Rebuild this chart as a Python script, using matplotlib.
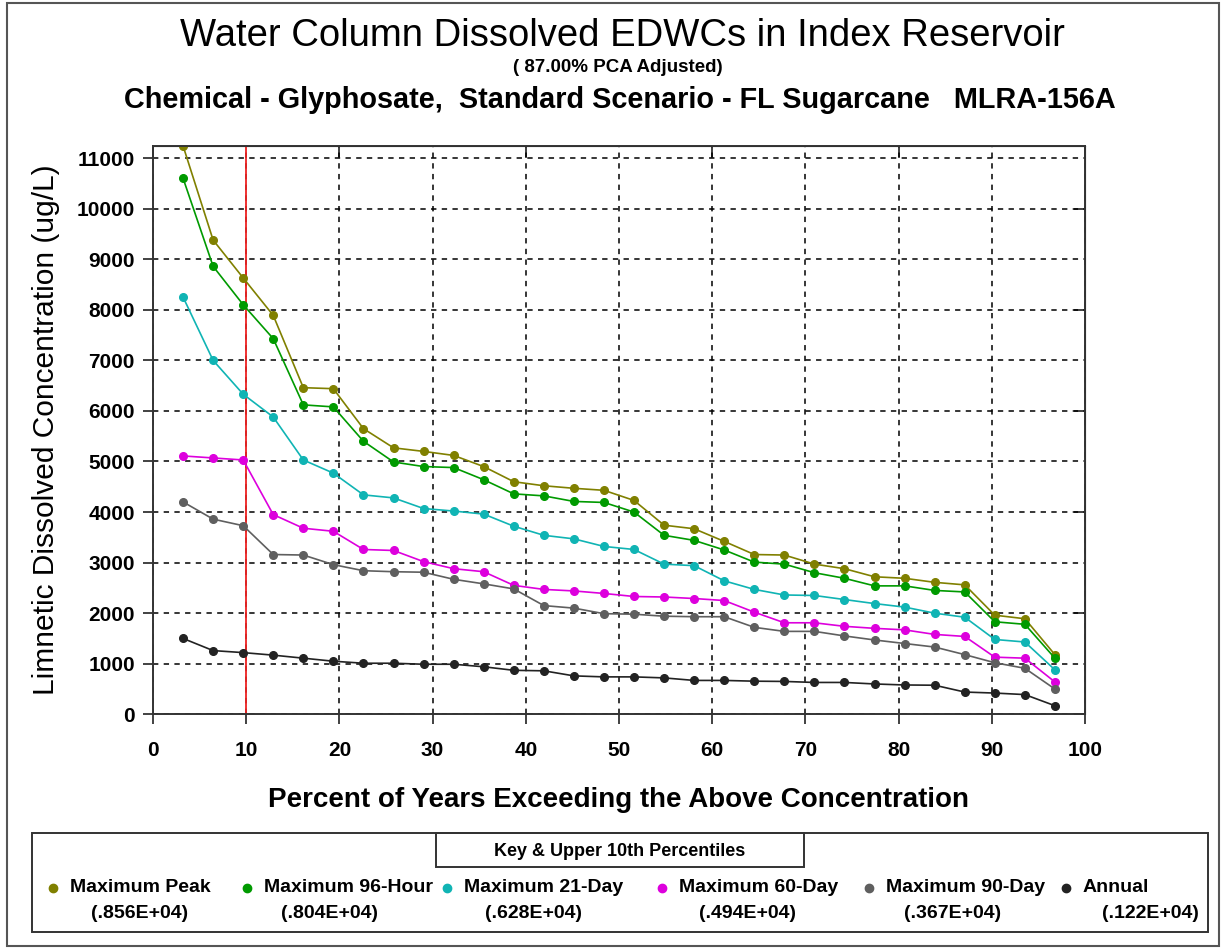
import matplotlib
matplotlib.use("Agg")
import matplotlib.pyplot as plt
from matplotlib.patches import Rectangle

plt.rcParams['font.family'] = ['Liberation Sans', 'DejaVu Sans']

# percent of years exceeding (30 years, rank/(n+1))
pct = [3.23, 6.45, 9.68, 12.90, 16.13, 19.35, 22.58, 25.81, 29.03, 32.26,
       35.48, 38.71, 41.94, 45.16, 48.39, 51.61, 54.84, 58.06, 61.29, 64.52,
       67.74, 70.97, 74.19, 77.42, 80.65, 83.87, 87.10, 90.32, 93.55, 96.77]

peak = [11240, 9380, 8630, 7890, 6460, 6440, 5650, 5270, 5200, 5120,
        4900, 4600, 4520, 4470, 4430, 4230, 3740, 3670, 3420, 3160,
        3150, 2970, 2880, 2720, 2690, 2610, 2560, 1960, 1890, 1180]
h96 = [10600, 8860, 8100, 7430, 6120, 6080, 5400, 4990, 4900, 4880,
       4640, 4360, 4320, 4210, 4190, 4000, 3540, 3440, 3250, 3010,
       2970, 2800, 2690, 2540, 2540, 2450, 2420, 1830, 1780, 1110]
d21 = [8250, 7000, 6330, 5880, 5030, 4770, 4340, 4280, 4070, 4020,
       3960, 3720, 3540, 3470, 3320, 3260, 2970, 2940, 2640, 2470,
       2360, 2350, 2270, 2190, 2120, 2000, 1920, 1480, 1430, 880]
d60 = [5110, 5070, 5030, 3950, 3680, 3620, 3260, 3240, 3020, 2880,
       2820, 2550, 2470, 2440, 2390, 2330, 2320, 2290, 2250, 2020,
       1810, 1810, 1740, 1700, 1670, 1580, 1540, 1130, 1110, 640]
d90 = [4200, 3860, 3730, 3160, 3150, 2960, 2840, 2820, 2810, 2670,
       2580, 2480, 2150, 2100, 1990, 1980, 1940, 1930, 1930, 1720,
       1640, 1640, 1550, 1470, 1400, 1330, 1180, 1020, 910, 500]
annual = [1500, 1260, 1220, 1170, 1110, 1050, 1010, 1010, 990, 990,
          940, 870, 860, 760, 740, 740, 720, 670, 670, 655,
          650, 630, 630, 600, 580, 575, 440, 420, 390, 170]

names = ["Maximum Peak", "Maximum 96-Hour", "Maximum 21-Day",
         "Maximum 60-Day", "Maximum 90-Day", "Annual"]
pctl10 = ["(.856E+04)", "(.804E+04)", "(.628E+04)",
          "(.494E+04)", "(.367E+04)", "(.122E+04)"]
colors = ["#808000", "#009a00", "#10b4b4", "#dd00dd", "#5f5f5f", "#222222"]
series = [peak, h96, d21, d60, d90, annual]

W, H = 1225, 949
fig = plt.figure(figsize=(W / 100, H / 100), dpi=100)

# overlay in pixel coords for frame + key
ov = fig.add_axes([0, 0, 1, 1], zorder=0)
ov.set_xlim(0, W)
ov.set_ylim(H, 0)
ov.axis('off')
ov.add_patch(Rectangle((7, 3), 1212, 943, fill=False, ec='#555555', lw=1.5))

ax = fig.add_axes([153 / W, 1 - 714.3 / H, (1085 - 153) / W, (714.3 - 146) / H], zorder=2)

for ys, c in zip(series, colors):
    ax.plot(pct, ys, color=c, lw=1.2, marker='o', ms=5.5, mec=c, mfc=c)

ax.axvline(10, color='#ee2222', lw=1.3, zorder=1)

ax.set_xlim(0, 100)
ax.set_ylim(0, max(peak))
ax.set_xticks(range(0, 101, 10))
ax.set_yticks(range(0, 11001, 1000))
ax.grid(True, color='black', ls=(0, (3.5, 3.5)), lw=1.1)
ax.set_axisbelow(True)
for s in ax.spines.values():
    s.set_color('#333333')
    s.set_linewidth(1.4)
ax.tick_params(axis='both', which='major', direction='out', length=7, width=1.3,
               color='#333333', labelsize=15)
# inward ticks on the top and right edges
ax.secondary_xaxis('top').tick_params(direction='in', length=8, width=1.3,
                                       color='#333333', labeltop=False)
sy = ax.secondary_yaxis('right')
sy.tick_params(direction='in', length=8, width=1.3, color='#333333', labelright=False)
for lab in ax.get_xticklabels() + ax.get_yticklabels():
    lab.set_fontweight('bold')
ax.xaxis.set_tick_params(which='major', pad=12)
ax.yaxis.set_tick_params(which='major', pad=6)

ax.set_xlabel("Percent of Years Exceeding the Above Concentration",
              fontsize=20, fontweight='bold', labelpad=20)
ax.set_ylabel("Limnetic Dissolved Concentration (ug/L)",
              fontsize=21.5, labelpad=12)

fig.text(622 / W, 1 - 36 / H, "Water Column Dissolved EDWCs in Index Reservoir",
         ha='center', va='center', fontsize=27.5)
fig.text(618 / W, 1 - 67 / H, "( 87.00% PCA Adjusted)",
         ha='center', va='center', fontsize=13.5, fontweight='bold')
fig.text(620 / W, 1 - 100 / H,
         "Chemical - Glyphosate,  Standard Scenario - FL Sugarcane   MLRA-156A",
         ha='center', va='center', fontsize=20.8, fontweight='bold')

# key box
ov.add_patch(Rectangle((32, 833), 1176, 99, fill=False, ec='#333333', lw=1.4))
ov.add_patch(Rectangle((436, 833), 368, 34, fill=False, ec='#333333', lw=1.4))
ov.text(620, 851, "Key & Upper 10th Percentiles", ha='center', va='center',
        fontsize=13, fontweight='bold')

mark_x = [53, 247, 447, 662, 869, 1066]
val_x = [140, 329, 533, 748, 953, 1150]
for mx, vx, name, v, c in zip(mark_x, val_x, names, pctl10, colors):
    ov.plot([mx], [888], marker='o', ms=6, color=c, mec=c)
    ov.text(mx + 17, 888, name, ha='left', va='center', fontsize=14, fontweight='bold')
    ov.text(vx, 913, v, ha='center', va='center', fontsize=14, fontweight='bold')

fig.savefig("out.png", dpi=100)
